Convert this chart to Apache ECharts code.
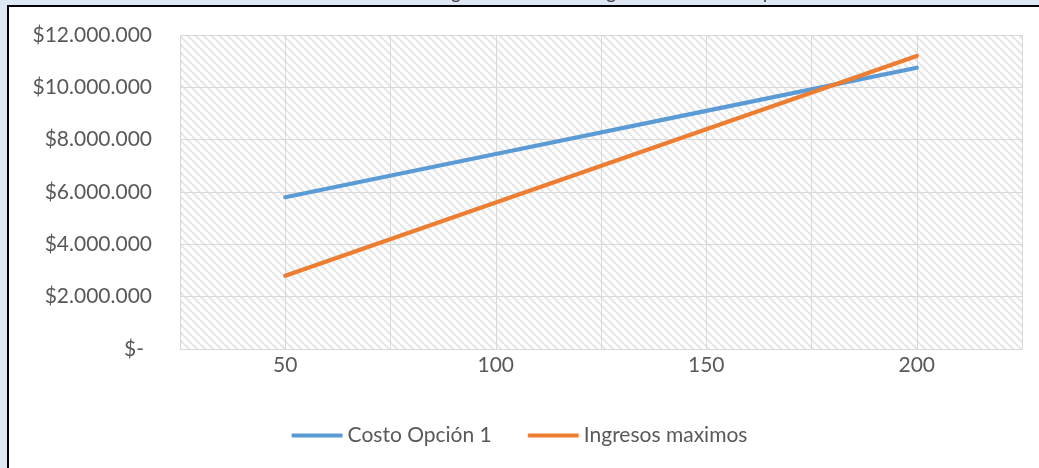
<!DOCTYPE html>
<html>
<head>
<meta charset="utf-8">
<script src="https://cdn.jsdelivr.net/npm/echarts@6/dist/echarts.min.js"></script>
<style>
html,body{margin:0;padding:0;background:#ffffff;}
#chart{width:1039px;height:468px;}
</style>
</head>
<body>
<div id="chart"></div>
<script>
// ---- data ----
const platos = [50, 100, 150, 200];
const costoOpcion1 = [5800000, 7450000, 9100000, 10750000];
const ingresosMaximos = [2800000, 5600000, 8400000, 11200000];
const seriesNames = ['Costo Opción 1', 'Ingresos maximos'];
const xLabelValues = [50, 100, 150, 200];
const titleText = 'Ilustración 7. Gráfica de costos base vs ingresos maximos según la cantidad de platos';

// ---- hatch pattern ----
const pc = document.createElement('canvas');
pc.width = 8; pc.height = 8;
const ctx = pc.getContext('2d');
ctx.fillStyle = '#ffffff';
ctx.fillRect(0, 0, 8, 8);
ctx.strokeStyle = '#e6e6e6';
ctx.lineWidth = 2.2;
for (let k = -16; k <= 16; k += 8) {
  ctx.beginPath();
  ctx.moveTo(k, 0);
  ctx.lineTo(k + 8, 8);
  ctx.stroke();
}

const font = 'Lato, "Open Sans", sans-serif';
const fs = 21;
const chart = echarts.init(document.getElementById('chart'));
const fmtMoney = v => {
  if (v === 0) return '{z|$-}';
  return '$' + String(v).replace(/\B(?=(\d{3})+(?!\d))/g, '.');
};

chart.setOption({
  animation: false,
  backgroundColor: '#ffffff',
  color: ['#5B9BD5', '#ED7D31'],
  graphic: [
    { type: 'rect', shape: { x: 0, y: 0, width: 1039, height: 5 }, style: { fill: '#dde8f4' }, z: 100 },
    { type: 'rect', shape: { x: 0, y: 0, width: 7, height: 468 }, style: { fill: '#dde8f4' }, z: 100 },
    { type: 'text', x: 110, y: -17, style: { text: titleText, font: '19px ' + font, fill: '#404040' }, z: 101 },
    { type: 'rect', shape: { x: 7, y: 5, width: 1032, height: 2 }, style: { fill: '#000000' }, z: 102 },
    { type: 'rect', shape: { x: 7, y: 5, width: 2, height: 463 }, style: { fill: '#000000' }, z: 102 }
  ],
  grid: {
    left: 180, right: 17, top: 35, bottom: 119,
    show: true,
    borderWidth: 0,
    backgroundColor: { image: pc, repeat: 'repeat' }
  },
  legend: {
    data: seriesNames,
    left: 'center',
    top: 420,
    itemWidth: 51,
    itemHeight: 4,
    itemGap: 36,
    icon: 'roundRect',
    textStyle: { fontFamily: font, fontSize: fs, color: '#595959' }
  },
  xAxis: {
    type: 'value',
    min: 25, max: 225, interval: 25,
    axisLine: { show: true, lineStyle: { color: '#d9d9d9', width: 1 } },
    axisTick: { show: false },
    splitLine: { show: true, lineStyle: { color: '#d9d9d9', width: 1 } },
    axisLabel: {
      margin: 6,
      fontFamily: font, fontSize: fs, color: '#595959',
      formatter: v => (xLabelValues.indexOf(v) >= 0 ? String(v) : '')
    }
  },
  yAxis: {
    type: 'value',
    min: 0, max: 12000000, interval: 2000000,
    axisLine: { show: false },
    axisTick: { show: false },
    splitLine: { show: true, lineStyle: { color: '#d9d9d9', width: 1 } },
    axisLabel: {
      margin: 28,
      fontFamily: font, fontSize: fs, color: '#595959',
      formatter: fmtMoney,
      rich: { z: { fontFamily: font, fontSize: fs, color: '#595959', padding: [0, 8, 0, 0] } }
    }
  },
  series: [
    {
      name: seriesNames[0], type: 'line', symbol: 'none',
      lineStyle: { width: 4.2, cap: 'round' },
      data: platos.map((x, i) => [x, costoOpcion1[i]])
    },
    {
      name: seriesNames[1], type: 'line', symbol: 'none',
      lineStyle: { width: 4.2, cap: 'round' },
      data: platos.map((x, i) => [x, ingresosMaximos[i]])
    }
  ]
});
</script>
</body>
</html>
